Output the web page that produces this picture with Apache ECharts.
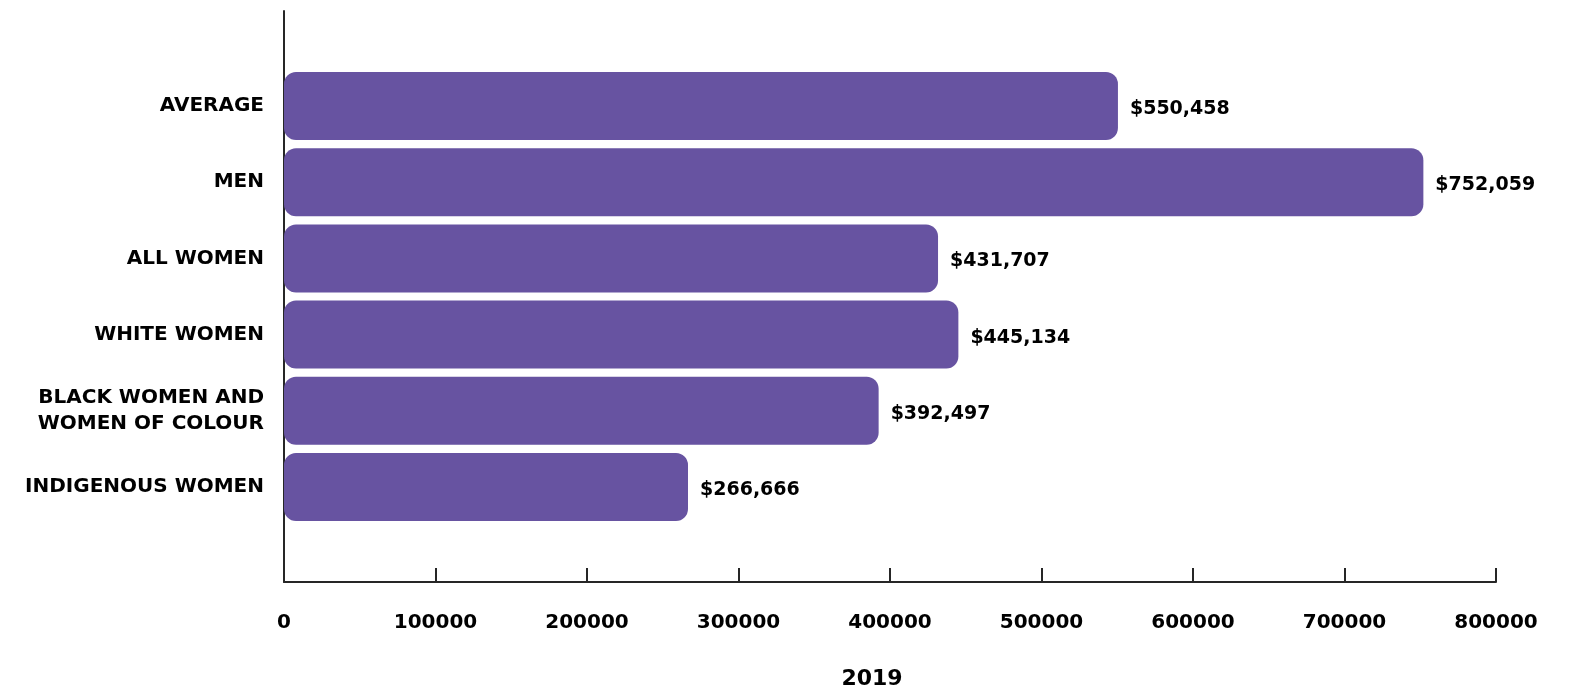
<!DOCTYPE html>
<html>
<head>
<meta charset="utf-8">
<title>2019</title>
<script src="https://cdn.jsdelivr.net/npm/echarts@6/dist/echarts.min.js"></script>
<style>
  html, body { margin: 0; padding: 0; background: #ffffff; }
  #chart { width: 1570px; height: 691px; }
</style>
</head>
<body>
<div id="chart"></div>
<script>
// Categories, top to bottom
const categories = [
  'AVERAGE',
  'MEN',
  'ALL WOMEN',
  'WHITE WOMEN',
  'BLACK WOMEN AND\nWOMEN OF COLOUR',
  'INDIGENOUS WOMEN'
];
// Values in dollars
const values = [550458, 752059, 431707, 445134, 392497, 266666];
// Value axis range
const axisMin = 0;
const axisMax = 800000;
const axisStep = 100000;
const axisTitle = '2019';

const FONT = '"DejaVu Sans", sans-serif';
const BAR = '#6753a1';
const INK = '#000000';

function money(v) {
  return '$' + String(v).replace(/\B(?=(\d{3})+(?!\d))/g, ',');
}

const chart = echarts.init(document.getElementById('chart'), null, { renderer: 'canvas' });

chart.setOption({
  animation: false,
  backgroundColor: '#ffffff',
  grid: [
    // frame: axis lines, ticks and tick labels
    { left: 284, right: 74, top: 11, bottom: 109, outerBoundsMode: 'none', containLabel: false },
    // bars
    { left: 284, right: 74, top: 68, bottom: 166, outerBoundsMode: 'none', containLabel: false }
  ],
  xAxis: [
    {
      type: 'value', gridIndex: 0,
      min: axisMin, max: axisMax, interval: axisStep,
      name: axisTitle, nameLocation: 'middle', nameGap: 86,
      nameTextStyle: {
        fontFamily: FONT, fontWeight: 'bold', fontSize: 22, color: INK,
        padding: [0, 36, 0, 0]
      },
      axisLine: { show: true, lineStyle: { color: '#262626', width: 2 } },
      axisTick: { show: true, inside: true, length: 14, lineStyle: { color: '#262626', width: 2 } },
      axisLabel: {
        show: true, margin: 31,
        formatter: v => String(v),
        fontFamily: FONT, fontWeight: 'bold', fontSize: 20, color: INK
      },
      splitLine: { show: false }
    },
    {
      type: 'value', gridIndex: 1,
      min: axisMin, max: axisMax, interval: axisStep,
      show: false
    }
  ],
  yAxis: [
    {
      type: 'value', gridIndex: 0, min: 0, max: 1,
      axisLine: { show: true, lineStyle: { color: '#262626', width: 2 } },
      axisTick: { show: false },
      axisLabel: { show: false },
      splitLine: { show: false }
    },
    {
      type: 'category', gridIndex: 1, inverse: true,
      data: categories,
      axisLine: { show: false },
      axisTick: { show: false },
      axisLabel: {
        margin: 20, align: 'right',
        fontFamily: FONT, fontWeight: 'bold', fontSize: 20, color: INK,
        lineHeight: 26, padding: [6, 0, 0, 0]
      },
      splitLine: { show: false }
    }
  ],
  series: [
    {
      type: 'bar',
      xAxisIndex: 1, yAxisIndex: 1,
      data: values,
      barWidth: 68,
      itemStyle: { color: BAR, borderRadius: 12 },
      label: {
        show: true, position: 'right', distance: 12, offset: [0, 3],
        formatter: p => money(p.value),
        fontFamily: FONT, fontWeight: 'bold', fontSize: 19, color: INK
      }
    }
  ]
});
</script>
</body>
</html>
